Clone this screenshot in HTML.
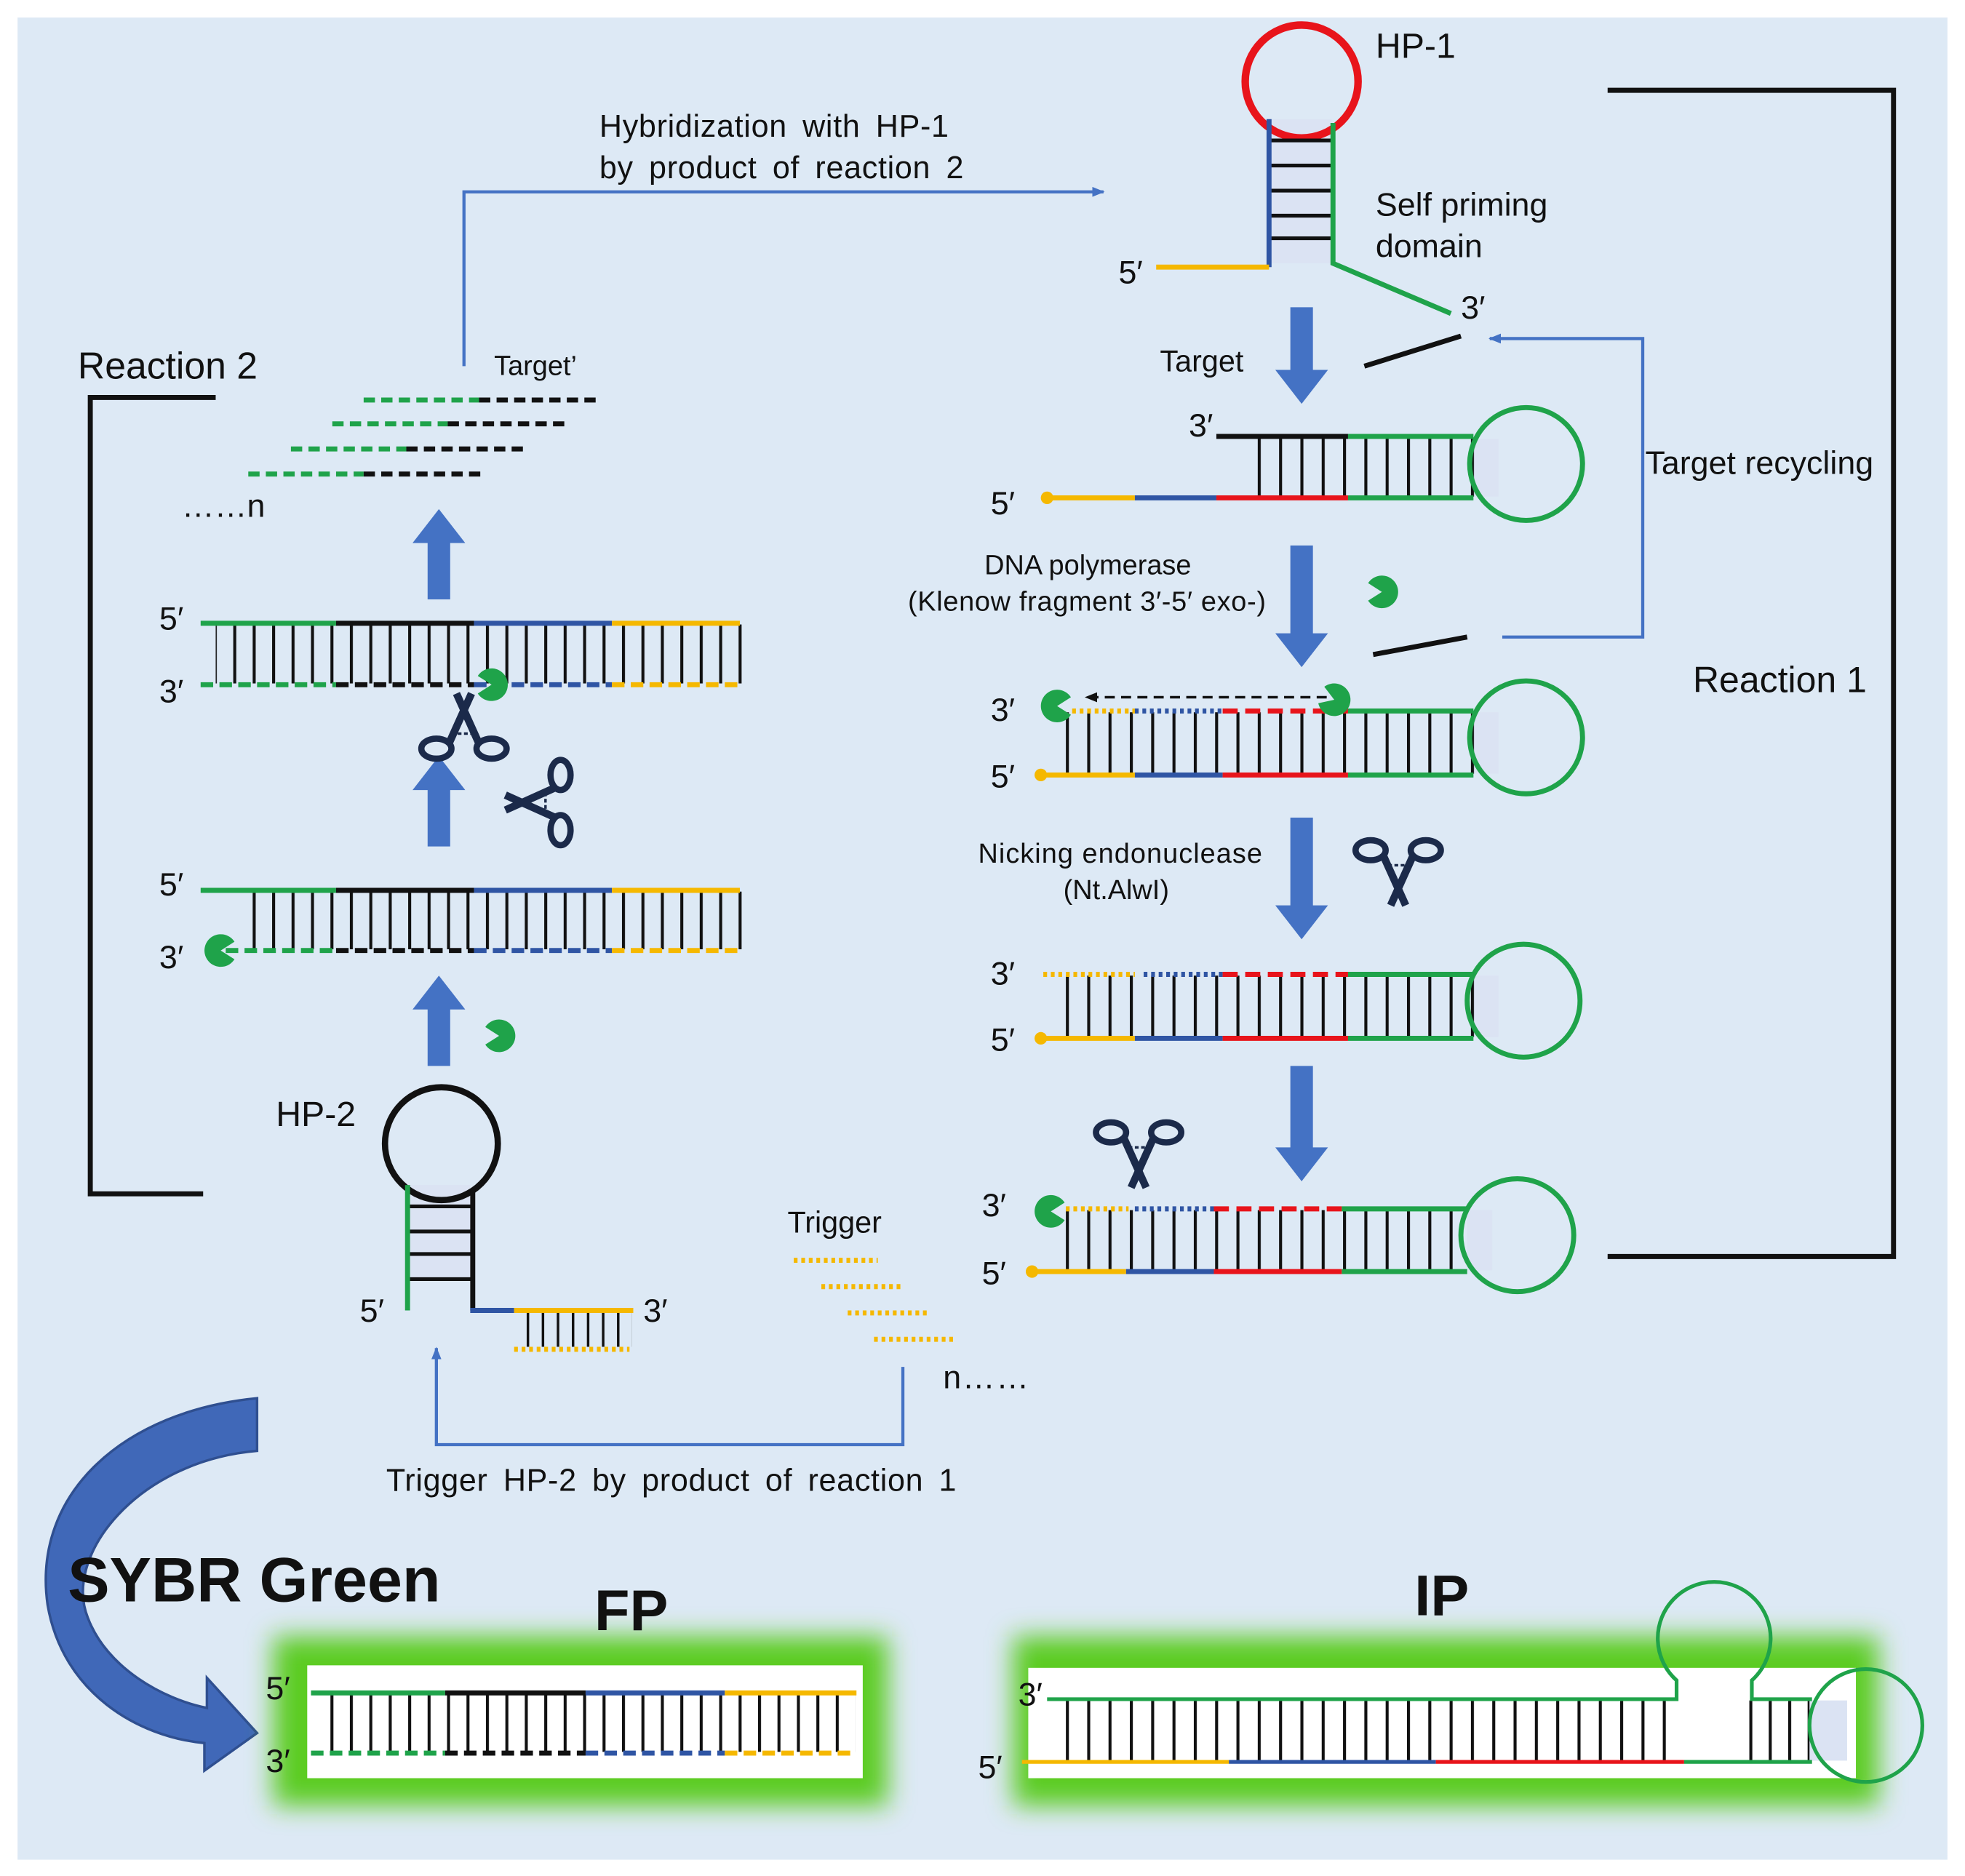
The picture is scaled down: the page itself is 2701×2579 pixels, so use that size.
<!DOCTYPE html>
<html><head><meta charset="utf-8"><style>
html,body{margin:0;padding:0;background:#fff}
svg{display:block}
text{font-family:"Liberation Sans",sans-serif;fill:#111}
.w{word-spacing:5px;letter-spacing:0.4px}
</style></head><body>
<svg width="2701" height="2579" viewBox="0 0 1567 1496" preserveAspectRatio="none" xmlns="http://www.w3.org/2000/svg">
<defs>
<pattern id="r17" width="17" height="100" patternUnits="userSpaceOnUse"><rect x="0" y="0" width="2.4" height="100" fill="#111"/></pattern>
<pattern id="r15" width="15.5" height="100" patternUnits="userSpaceOnUse"><rect x="0" y="0" width="2.4" height="100" fill="#111"/></pattern>
<pattern id="r12" width="12" height="100" patternUnits="userSpaceOnUse"><rect x="0" y="0" width="2" height="100" fill="#111"/></pattern>
<marker id="ah" markerWidth="10" markerHeight="8" refX="9" refY="4" orient="auto" markerUnits="userSpaceOnUse"><path d="M0,0 L10,4 L0,8 z" fill="#4472c4"/></marker>
<marker id="ahk" markerWidth="10" markerHeight="8" refX="9" refY="4" orient="auto" markerUnits="userSpaceOnUse"><path d="M0,0 L10,4 L0,8 z" fill="#111"/></marker>
<filter id="glow" x="-10%" y="-20%" width="120%" height="140%"><feGaussianBlur stdDeviation="10"/></filter>
<g id="pac"><path d="M0,0 L11,-7 A13,13 0 1 0 11,7 Z" fill="#1fa34a"/></g>
<g id="sc" fill="none" stroke="#1b2a4a" stroke-width="5">
<ellipse cx="-22" cy="-22" rx="12" ry="8"/><ellipse cx="22" cy="-22" rx="12" ry="8"/>
<path d="M-12,-18 L6,22 M12,-18 L-6,22" stroke-width="6"/>
<line x1="-8" y1="-10" x2="8" y2="-10" stroke-width="2" stroke-dasharray="3,2"/>
</g>
</defs>
<rect width="1567" height="1496" fill="#fff"/>
<rect x="14" y="14" width="1539" height="1469" fill="#dde9f5"/>

<!-- brackets -->
<polyline points="172,317 72,317 72,952 162,952" fill="none" stroke="#111" stroke-width="4"/>
<polyline points="1282,72 1510,72 1510,1002 1282,1002" fill="none" stroke="#111" stroke-width="4"/>

<!-- blue connectors -->
<polyline points="370,292 370,153 880,153" fill="none" stroke="#4472c4" stroke-width="2.5" marker-end="url(#ah)"/>
<polyline points="1198,508 1310,508 1310,270 1188,270" fill="none" stroke="#4472c4" stroke-width="2.5" marker-end="url(#ah)"/>
<polyline points="720,1090 720,1152 348,1152 348,1075" fill="none" stroke="#4472c4" stroke-width="2.5" marker-end="url(#ah)"/>

<!-- HP-1 -->
<rect x="1014" y="95" width="48" height="115" fill="#dbe3f3"/>
<circle cx="1038" cy="65" r="45" fill="none" stroke="#e8141b" stroke-width="6"/>
<g stroke="#111" stroke-width="3"><line x1="1012" y1="112" x2="1063" y2="112"/><line x1="1012" y1="132" x2="1063" y2="132"/><line x1="1012" y1="152" x2="1063" y2="152"/><line x1="1012" y1="172" x2="1063" y2="172"/><line x1="1012" y1="190" x2="1063" y2="190"/></g>
<line x1="1012" y1="95" x2="1012" y2="213" stroke="#2f55a4" stroke-width="4"/>
<polyline points="1063,98 1063,210 1157,250" fill="none" stroke="#1fa34a" stroke-width="4"/>
<line x1="922" y1="213" x2="1012" y2="213" stroke="#f5b800" stroke-width="4"/>
<line x1="1088" y1="292" x2="1165" y2="268" stroke="#111" stroke-width="4"/>
<line x1="1095" y1="522" x2="1170" y2="508" stroke="#111" stroke-width="4"/>

<g fill="#4472c4">
<path d="M1029,245 h18 v50 h12 l-21,27 l-21,-27 h12 z"/>
<path d="M1029,435 h18 v70 h12 l-21,27 l-21,-27 h12 z"/>
<path d="M1029,652 h18 v70 h12 l-21,27 l-21,-27 h12 z"/>
<path d="M1029,850 h18 v65 h12 l-21,27 l-21,-27 h12 z"/>
<path d="M341,478 h18 v-45 h12 l-21,-27 l-21,27 h12 z"/>
<path d="M341,675 h18 v-45 h12 l-21,-27 l-21,27 h12 z"/>
<path d="M341,850 h18 v-45 h12 l-21,-27 l-21,27 h12 z"/>
</g>

<!-- Right duplex 1 -->
<rect x="1175" y="350" width="20" height="46" fill="#dbe3f3"/>
<rect x="995" y="349" width="182" height="47" fill="url(#r17)"/>
<circle cx="1217" cy="370" r="45" fill="none" stroke="#1fa34a" stroke-width="4"/>
<line x1="970" y1="348" x2="1075" y2="348" stroke="#111" stroke-width="4"/>
<line x1="1075" y1="348" x2="1175" y2="348" stroke="#1fa34a" stroke-width="4"/>
<line x1="835" y1="397" x2="905" y2="397" stroke="#f5b800" stroke-width="4"/>
<line x1="905" y1="397" x2="970" y2="397" stroke="#2f55a4" stroke-width="4"/>
<line x1="970" y1="397" x2="1075" y2="397" stroke="#e8141b" stroke-width="4"/>
<line x1="1075" y1="397" x2="1175" y2="397" stroke="#1fa34a" stroke-width="4"/>
<circle cx="835" cy="397" r="5" fill="#f5b800"/>

<!-- Right duplex 2 -->
<rect x="1175" y="568" width="20" height="49" fill="#dbe3f3"/>
<rect x="845" y="568" width="332" height="49" fill="url(#r17)"/>
<circle cx="1217" cy="588" r="45" fill="none" stroke="#1fa34a" stroke-width="4"/>
<line x1="855" y1="567" x2="905" y2="567" stroke="#f5b800" stroke-width="4" stroke-dasharray="3,3"/>
<line x1="905" y1="567" x2="975" y2="567" stroke="#2f55a4" stroke-width="4" stroke-dasharray="3,3"/>
<line x1="975" y1="567" x2="1075" y2="567" stroke="#e8141b" stroke-width="4" stroke-dasharray="12,6"/>
<line x1="1075" y1="567" x2="1175" y2="567" stroke="#1fa34a" stroke-width="4"/>
<line x1="830" y1="618" x2="905" y2="618" stroke="#f5b800" stroke-width="4"/>
<line x1="905" y1="618" x2="975" y2="618" stroke="#2f55a4" stroke-width="4"/>
<line x1="975" y1="618" x2="1075" y2="618" stroke="#e8141b" stroke-width="4"/>
<line x1="1075" y1="618" x2="1175" y2="618" stroke="#1fa34a" stroke-width="4"/>
<circle cx="830" cy="618" r="5" fill="#f5b800"/>
<line x1="1058" y1="556" x2="866" y2="556" stroke="#111" stroke-width="2" stroke-dasharray="8,5" marker-end="url(#ahk)"/>
<use href="#pac" transform="translate(843,563)"/>
<use href="#pac" transform="translate(1064,558) rotate(200)"/>
<use href="#pac" transform="translate(1102,472) rotate(180)"/>

<!-- Right duplex 3 -->
<rect x="1175" y="778" width="20" height="49" fill="#dbe3f3"/>
<rect x="845" y="778" width="332" height="49" fill="url(#r17)"/>
<circle cx="1215" cy="798" r="45" fill="none" stroke="#1fa34a" stroke-width="4"/>
<line x1="832" y1="777" x2="905" y2="777" stroke="#f5b800" stroke-width="4" stroke-dasharray="3,3"/>
<line x1="912" y1="777" x2="975" y2="777" stroke="#2f55a4" stroke-width="4" stroke-dasharray="3,3"/>
<line x1="975" y1="777" x2="1075" y2="777" stroke="#e8141b" stroke-width="4" stroke-dasharray="12,6"/>
<line x1="1075" y1="777" x2="1175" y2="777" stroke="#1fa34a" stroke-width="4"/>
<line x1="830" y1="828" x2="905" y2="828" stroke="#f5b800" stroke-width="4"/>
<line x1="905" y1="828" x2="975" y2="828" stroke="#2f55a4" stroke-width="4"/>
<line x1="975" y1="828" x2="1075" y2="828" stroke="#e8141b" stroke-width="4"/>
<line x1="1075" y1="828" x2="1175" y2="828" stroke="#1fa34a" stroke-width="4"/>
<circle cx="830" cy="828" r="5" fill="#f5b800"/>

<!-- Right duplex 4 -->
<rect x="1170" y="965" width="20" height="48" fill="#dbe3f3"/>
<rect x="840" y="965" width="332" height="48" fill="url(#r17)"/>
<circle cx="1210" cy="985" r="45" fill="none" stroke="#1fa34a" stroke-width="4"/>
<line x1="850" y1="964" x2="900" y2="964" stroke="#f5b800" stroke-width="4" stroke-dasharray="3,3"/>
<line x1="905" y1="964" x2="968" y2="964" stroke="#2f55a4" stroke-width="4" stroke-dasharray="3,3"/>
<line x1="968" y1="964" x2="1070" y2="964" stroke="#e8141b" stroke-width="4" stroke-dasharray="12,6"/>
<line x1="1070" y1="964" x2="1170" y2="964" stroke="#1fa34a" stroke-width="4"/>
<line x1="823" y1="1014" x2="898" y2="1014" stroke="#f5b800" stroke-width="4"/>
<line x1="898" y1="1014" x2="968" y2="1014" stroke="#2f55a4" stroke-width="4"/>
<line x1="968" y1="1014" x2="1070" y2="1014" stroke="#e8141b" stroke-width="4"/>
<line x1="1070" y1="1014" x2="1170" y2="1014" stroke="#1fa34a" stroke-width="4"/>
<circle cx="823" cy="1014" r="5" fill="#f5b800"/>
<use href="#pac" transform="translate(838,966)"/>

<!-- scissors -->
<use href="#sc" transform="translate(1115,700)"/>
<use href="#sc" transform="translate(908,925)"/>
<use href="#sc" transform="translate(370,575) rotate(180)"/>
<use href="#sc" transform="translate(425,640) rotate(90)"/>

<!-- Target' dashed -->
<g stroke-width="4" stroke-dasharray="9,5">
<line x1="290" y1="319" x2="382" y2="319" stroke="#1fa34a"/><line x1="382" y1="319" x2="475" y2="319" stroke="#111"/>
<line x1="265" y1="338" x2="357" y2="338" stroke="#1fa34a"/><line x1="357" y1="338" x2="450" y2="338" stroke="#111"/>
<line x1="232" y1="358" x2="324" y2="358" stroke="#1fa34a"/><line x1="324" y1="358" x2="418" y2="358" stroke="#111"/>
<line x1="198" y1="378" x2="290" y2="378" stroke="#1fa34a"/><line x1="290" y1="378" x2="383" y2="378" stroke="#111"/>
</g>

<!-- Left duplex top -->
<rect x="172" y="498" width="420" height="47" fill="url(#r15)"/>
<line x1="160" y1="497" x2="268" y2="497" stroke="#1fa34a" stroke-width="4"/>
<line x1="268" y1="497" x2="378" y2="497" stroke="#111" stroke-width="4"/>
<line x1="378" y1="497" x2="488" y2="497" stroke="#2f55a4" stroke-width="4"/>
<line x1="488" y1="497" x2="590" y2="497" stroke="#f5b800" stroke-width="4"/>
<g stroke-width="4" stroke-dasharray="10,5">
<line x1="160" y1="546" x2="268" y2="546" stroke="#1fa34a"/><line x1="268" y1="546" x2="378" y2="546" stroke="#111"/>
<line x1="378" y1="546" x2="488" y2="546" stroke="#2f55a4"/><line x1="488" y1="546" x2="590" y2="546" stroke="#f5b800"/>
</g>
<use href="#pac" transform="translate(392,546) rotate(180)"/>
<!-- Left duplex mid -->
<rect x="190" y="711" width="402" height="46" fill="url(#r15)"/>
<line x1="160" y1="710" x2="268" y2="710" stroke="#1fa34a" stroke-width="4"/>
<line x1="268" y1="710" x2="378" y2="710" stroke="#111" stroke-width="4"/>
<line x1="378" y1="710" x2="488" y2="710" stroke="#2f55a4" stroke-width="4"/>
<line x1="488" y1="710" x2="590" y2="710" stroke="#f5b800" stroke-width="4"/>
<g stroke-width="4" stroke-dasharray="10,5">
<line x1="180" y1="758" x2="268" y2="758" stroke="#1fa34a"/><line x1="268" y1="758" x2="378" y2="758" stroke="#111"/>
<line x1="378" y1="758" x2="488" y2="758" stroke="#2f55a4"/><line x1="488" y1="758" x2="590" y2="758" stroke="#f5b800"/>
</g>
<use href="#pac" transform="translate(176,758)"/>
<use href="#pac" transform="translate(398,826) rotate(180)"/>

<!-- HP-2 -->
<rect x="327" y="945" width="48" height="75" fill="#dbe3f3"/>
<circle cx="352" cy="912" r="45" fill="none" stroke="#111" stroke-width="5"/>
<g stroke="#111" stroke-width="3"><line x1="325" y1="962" x2="377" y2="962"/><line x1="325" y1="982" x2="377" y2="982"/><line x1="325" y1="1000" x2="377" y2="1000"/><line x1="325" y1="1020" x2="377" y2="1020"/></g>
<line x1="325" y1="945" x2="325" y2="1045" stroke="#1fa34a" stroke-width="4"/>
<line x1="377" y1="948" x2="377" y2="1045" stroke="#111" stroke-width="4"/>
<line x1="375" y1="1045" x2="410" y2="1045" stroke="#2f55a4" stroke-width="4"/>
<line x1="410" y1="1045" x2="505" y2="1045" stroke="#f5b800" stroke-width="4"/>
<rect x="414" y="1047" width="90" height="27" fill="url(#r12)"/>
<line x1="410" y1="1076" x2="502" y2="1076" stroke="#f5b800" stroke-width="4" stroke-dasharray="3,3"/>

<g stroke="#f5b800" stroke-width="4" stroke-dasharray="3,3">
<line x1="633" y1="1005" x2="700" y2="1005"/><line x1="655" y1="1026" x2="720" y2="1026"/>
<line x1="676" y1="1047" x2="742" y2="1047"/><line x1="697" y1="1068" x2="763" y2="1068"/>
</g>

<!-- big curved arrow -->
<path d="M205,1115 L205,1157 C110,1165 50,1240 70,1290 C85,1330 130,1355 165,1362 L165,1338 L205,1382 L163,1412 L163,1390 C110,1385 50,1350 38,1280 C25,1190 100,1125 205,1115 Z" fill="#4068b8" stroke="#2f4f90" stroke-width="2"/>

<!-- FP -->
<rect x="218" y="1305" width="490" height="135" fill="#5ccc22" filter="url(#glow)"/>
<rect x="245" y="1328" width="443" height="90" fill="#fff"/>
<rect x="262" y="1351" width="420" height="46" fill="url(#r15)"/>
<line x1="248" y1="1350" x2="355" y2="1350" stroke="#1fa34a" stroke-width="4"/>
<line x1="355" y1="1350" x2="467" y2="1350" stroke="#111" stroke-width="4"/>
<line x1="467" y1="1350" x2="578" y2="1350" stroke="#2f55a4" stroke-width="4"/>
<line x1="578" y1="1350" x2="683" y2="1350" stroke="#f5b800" stroke-width="4"/>
<g stroke-width="4" stroke-dasharray="10,5">
<line x1="248" y1="1398" x2="355" y2="1398" stroke="#1fa34a"/><line x1="355" y1="1398" x2="467" y2="1398" stroke="#111"/>
<line x1="467" y1="1398" x2="578" y2="1398" stroke="#2f55a4"/><line x1="578" y1="1398" x2="683" y2="1398" stroke="#f5b800"/>
</g>

<!-- IP -->
<rect x="808" y="1305" width="690" height="135" fill="#5ccc22" filter="url(#glow)"/>
<rect x="820" y="1330" width="660" height="88" fill="#fff"/>
<rect x="842" y="1356" width="495" height="48" fill="url(#r17)"/>
<rect x="1395" y="1356" width="50" height="48" fill="url(#r15)"/>
<rect x="1443" y="1356" width="30" height="48" fill="#dbe3f3"/>
<path d="M835,1355 L1337,1355 L1337,1340 A45,45 0 1 1 1397,1340 L1397,1355 L1445,1355" fill="none" stroke="#1fa34a" stroke-width="3"/>
<circle cx="1488" cy="1376" r="45" fill="none" stroke="#1fa34a" stroke-width="3"/>
<line x1="815" y1="1405" x2="980" y2="1405" stroke="#f5b800" stroke-width="3"/>
<line x1="980" y1="1405" x2="1145" y2="1405" stroke="#2f55a4" stroke-width="3"/>
<line x1="1145" y1="1405" x2="1343" y2="1405" stroke="#e8141b" stroke-width="3"/>
<line x1="1343" y1="1405" x2="1445" y2="1405" stroke="#1fa34a" stroke-width="3"/>

<!-- all text on top -->
<text class="w" x="478" y="109" font-size="25">Hybridization with HP-1</text>
<text class="w" x="478" y="142" font-size="25">by product of reaction 2</text>
<text x="1097" y="46" font-size="28">HP-1</text>
<text x="1097" y="172" font-size="26">Self priming</text>
<text x="1097" y="205" font-size="26">domain</text>
<text x="892" y="226" font-size="26">5′</text>
<text x="1165" y="254" font-size="26">3′</text>
<text x="925" y="296" font-size="24">Target</text>
<text x="62" y="302" font-size="30">Reaction 2</text>
<text x="394" y="299" font-size="22">Target’</text>
<text x="1312" y="378" font-size="26">Target recycling</text>
<text x="1350" y="552" font-size="29">Reaction 1</text>
<text x="785" y="458" font-size="22">DNA polymerase</text>
<text x="724" y="487" font-size="22" letter-spacing="0.4">(Klenow fragment 3′-5′ exo-)</text>
<text x="780" y="688" font-size="22" letter-spacing="0.6">Nicking endonuclease</text>
<text x="848" y="717" font-size="22">(Nt.AlwI)</text>
<text x="145" y="412" font-size="26">……n</text>
<text x="220" y="898" font-size="28">HP-2</text>
<text x="628" y="983" font-size="24">Trigger</text>
<text x="752" y="1107" font-size="26" letter-spacing="1">n……</text>
<text class="w" x="308" y="1189" font-size="25">Trigger HP-2 by product of reaction 1</text>
<text x="54" y="1277" font-size="50" font-weight="bold">SYBR Green</text>
<text x="474" y="1300" font-size="46" font-weight="bold">FP</text>
<text x="1128" y="1288" font-size="46" font-weight="bold">IP</text>
<text x="948" y="348" font-size="26">3′</text>
<text x="790" y="410" font-size="26">5′</text>
<text x="790" y="575" font-size="26">3′</text>
<text x="790" y="628" font-size="26">5′</text>
<text x="790" y="785" font-size="26">3′</text>
<text x="790" y="838" font-size="26">5′</text>
<text x="783" y="970" font-size="26">3′</text>
<text x="783" y="1024" font-size="26">5′</text>
<text x="127" y="502" font-size="26">5′</text>
<text x="127" y="560" font-size="26">3′</text>
<text x="127" y="714" font-size="26">5′</text>
<text x="127" y="772" font-size="26">3′</text>
<text x="287" y="1054" font-size="26">5′</text>
<text x="513" y="1054" font-size="26">3′</text>
<text x="212" y="1355" font-size="26">5′</text>
<text x="212" y="1413" font-size="26">3′</text>
<text x="812" y="1360" font-size="26">3′</text>
<text x="780" y="1418" font-size="26">5′</text>
</svg>
</body></html>
